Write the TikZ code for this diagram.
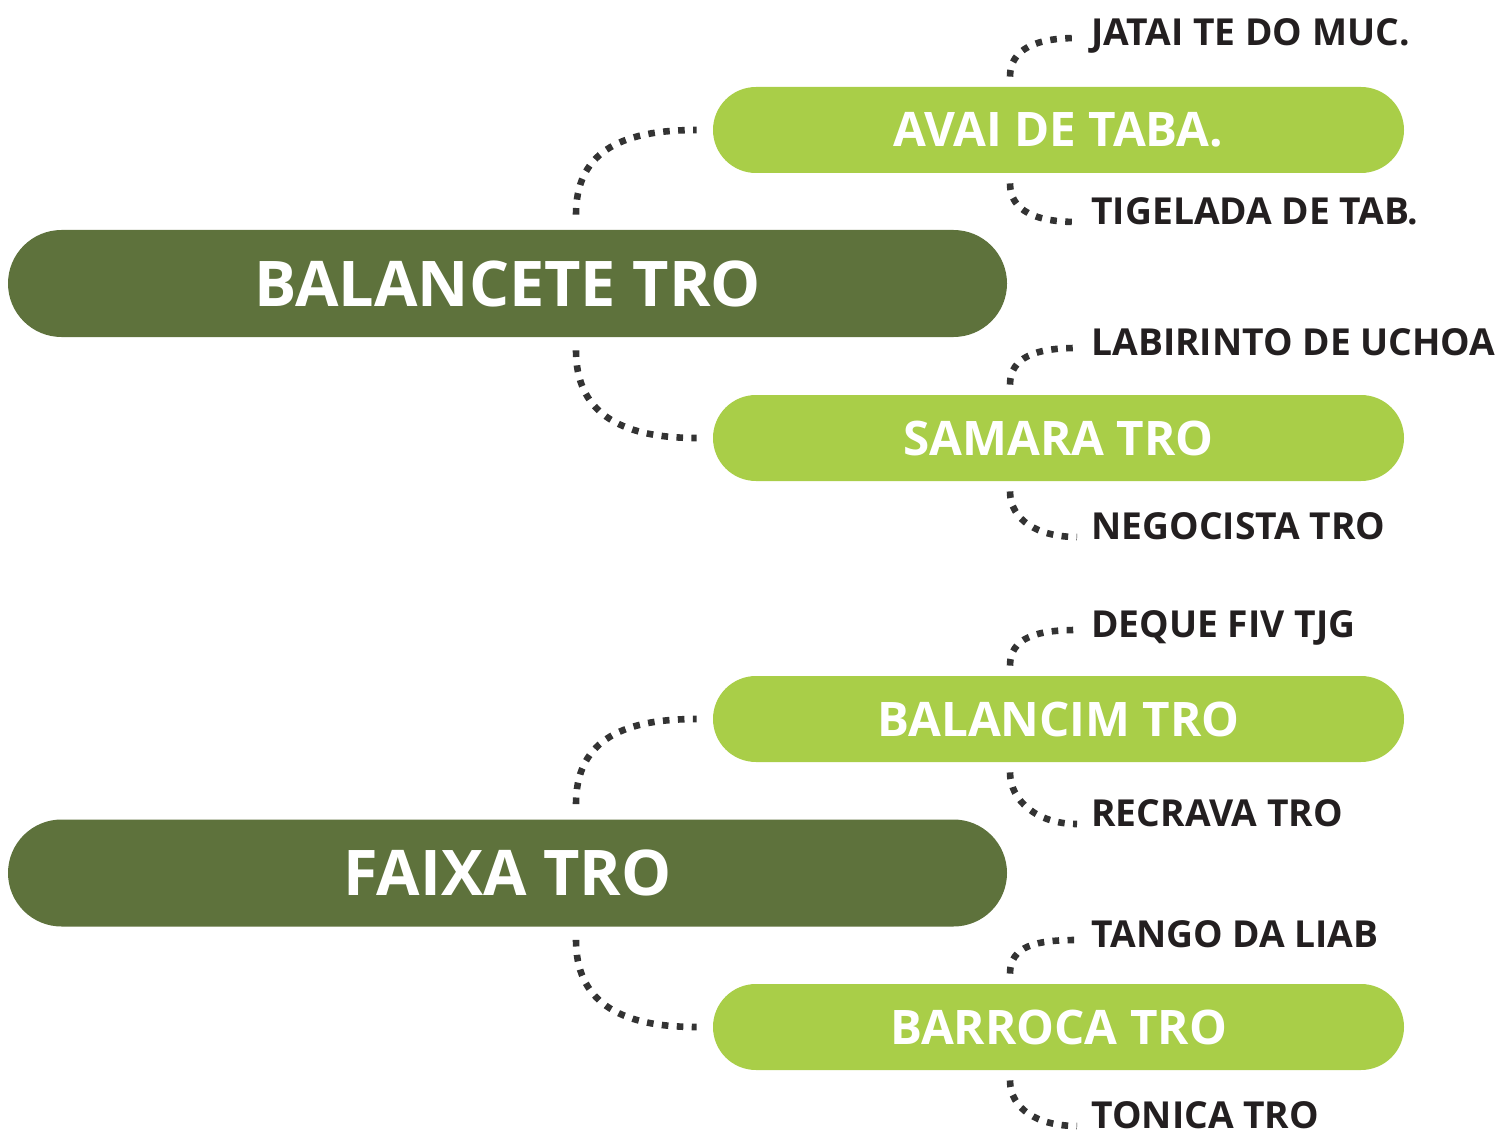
\documentclass[tikz,border=0pt]{standalone}
\usepackage{fontspec}
\setmainfont{Open Sans}
\definecolor{rootgreen}{HTML}{5E723C}
\definecolor{branchgreen}{HTML}{A9CE48}
\definecolor{leafink}{HTML}{231F20}
\tikzset{
    root/.style={fill=rootgreen, text=white, rounded corners=26.75pt,
        minimum width=499.5pt, minimum height=53.5pt, inner sep=0pt,
        font=\fontsize{31.5pt}{36pt}\bfseries},
    branch/.style={fill=branchgreen, text=white, rounded corners=21.5pt,
        minimum width=345.5pt, minimum height=43pt, inner sep=0pt,
        font=\fontsize{23.8pt}{28pt}\bfseries},
    leaf/.style={anchor=west, text=leafink, inner sep=0pt, text height=13.2pt,
        text depth=0pt, font=\fontsize{18.6pt}{23pt}\bfseries},
    link/.style={draw=black!80, line width=3.3pt, dash pattern=on 3.3pt off 4.2pt}
}
\begin{document}
\begin{tikzpicture}[x=0.5pt, y=-0.5pt]
    \useasboundingbox (0,0) rectangle (1504,1139);

    % Main bars
    \node[root] (balancete) at (507.5, 283.5) {BALANCETE TRO};
    \node[root] (faixa) at (507.5, 873) {FAIXA TRO};

    % Branch bars
    \node[branch] (avai) at (1058.5, 130) {AVAI DE TABA.};
    \node[branch] (samara) at (1058.5, 438) {SAMARA TRO};
    \node[branch] (balancim) at (1058.5, 719) {BALANCIM TRO};
    \node[branch] (barroca) at (1058.5, 1027) {BARROCA TRO};

    % Leaf labels
    \node[leaf] (jatai) at (1091, 32) {JATAI TE DO MUC.};
    \node[leaf] (tigelada) at (1091, 211) {TIGELADA DE TAB.};
    \node[leaf] (labirinto) at (1091, 342) {LABIRINTO DE UCHOA};
    \node[leaf] (negocista) at (1091, 526) {NEGOCISTA TRO};
    \node[leaf] (deque) at (1091, 624) {DEQUE FIV TJG};
    \node[leaf] (recrava) at (1091, 813) {RECRAVA TRO};
    \node[leaf] (tango) at (1091, 934) {TANGO DA LIAB};
    \node[leaf] (tonica) at (1091, 1115) {TONICA TRO};

    % Main bar to branch bar
    \draw[link] ([shift={(68.5,-15)}]balancete.north) .. controls +(0,-60) and +(-80,0) .. ([shift={(-16,0)}]avai.west);
    \draw[link] ([shift={(68.5,13)}]balancete.south) .. controls +(0,60) and +(-80,0) .. ([shift={(-16,0)}]samara.west);
    \draw[link] ([shift={(68.5,-15)}]faixa.north) .. controls +(0,-60) and +(-80,0) .. ([shift={(-16,0)}]balancim.west);
    \draw[link] ([shift={(68.5,13)}]faixa.south) .. controls +(0,60) and +(-80,0) .. ([shift={(-16,0)}]barroca.west);

    % Branch bar to leaf labels
    \draw[link] ([shift={(-48.5,-10)}]avai.north) .. controls +(0,-28) and +(-40,0) .. ([shift={(-14,6)}]jatai.west);
    \draw[link] ([shift={(-48.5,10)}]avai.south) .. controls +(0,28) and +(-40,0) .. ([shift={(-14,11)}]tigelada.west);
    \draw[link] ([shift={(-48.5,-10)}]samara.north) .. controls +(0,-28) and +(-40,0) .. ([shift={(-14,6)}]labirinto.west);
    \draw[link] ([shift={(-48.5,10)}]samara.south) .. controls +(0,28) and +(-40,0) .. ([shift={(-14,11)}]negocista.west);
    \draw[link] ([shift={(-48.5,-10)}]balancim.north) .. controls +(0,-28) and +(-40,0) .. ([shift={(-14,6)}]deque.west);
    \draw[link] ([shift={(-48.5,10)}]balancim.south) .. controls +(0,28) and +(-40,0) .. ([shift={(-14,11)}]recrava.west);
    \draw[link] ([shift={(-48.5,-10)}]barroca.north) .. controls +(0,-28) and +(-40,0) .. ([shift={(-14,6)}]tango.west);
    \draw[link] ([shift={(-48.5,10)}]barroca.south) .. controls +(0,28) and +(-40,0) .. ([shift={(-14,11)}]tonica.west);
\end{tikzpicture}
\end{document}
